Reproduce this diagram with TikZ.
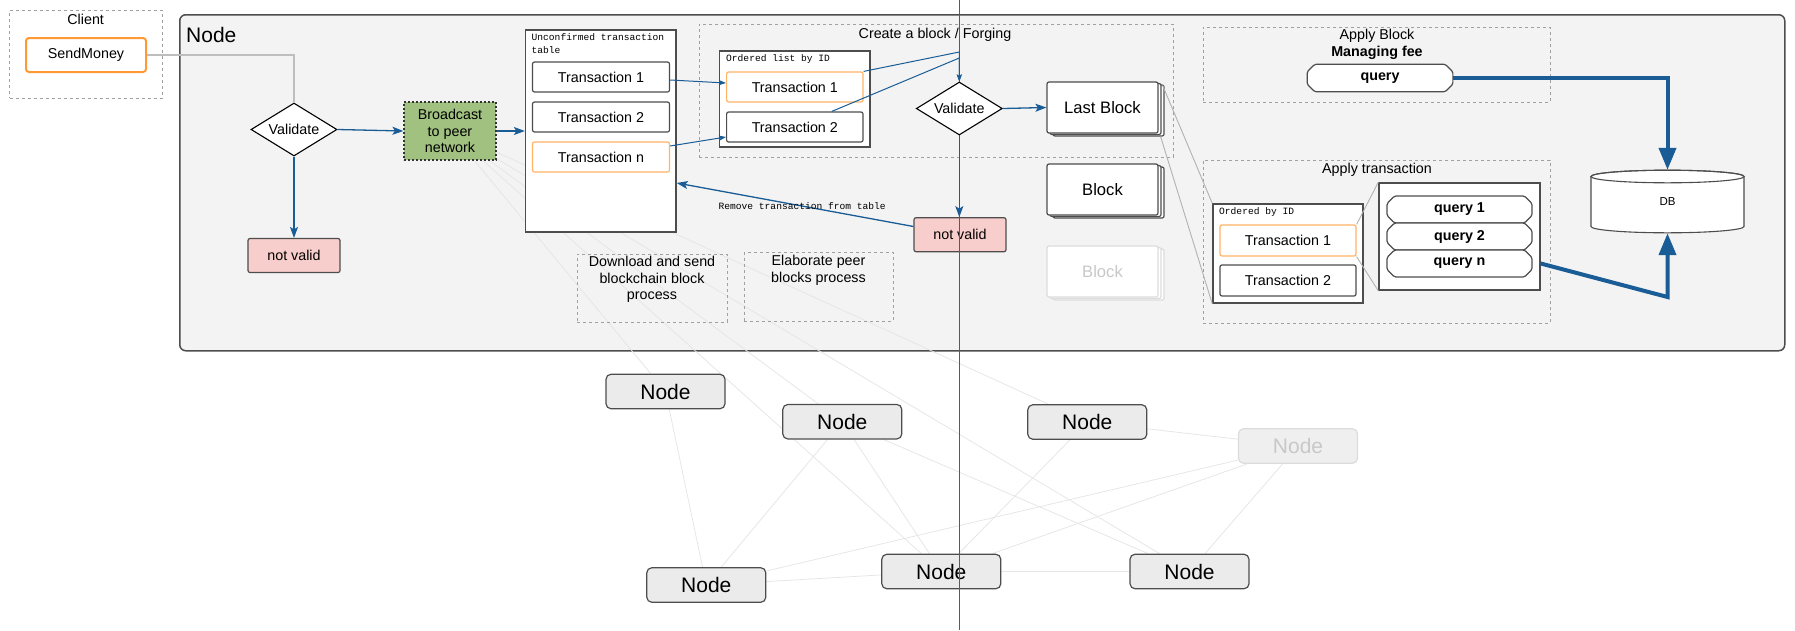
\documentclass[tikz,border=0pt]{standalone}
\usepackage{fontspec}
\setmainfont{Liberation Sans}
\setmonofont{Liberation Mono}
\usetikzlibrary{shapes,arrows.meta,positioning,shadows}
\definecolor{nodebg}{RGB}{243,243,243}
\definecolor{boxdark}{RGB}{77,77,77}
\definecolor{dashgray}{RGB}{160,160,160}
\definecolor{txorange}{RGB}{255,179,102}
\definecolor{sendorange}{RGB}{255,153,51}
\definecolor{nvred}{RGB}{248,206,204}
\definecolor{bcgreen}{RGB}{160,193,128}
\definecolor{flowblue}{RGB}{26,92,150}
\definecolor{peerfill}{RGB}{235,235,235}
\definecolor{peerfade}{RGB}{239,239,239}
\definecolor{linkgray}{RGB}{230,230,230}
\definecolor{wiregray}{RGB}{190,190,190}
\definecolor{zoomgray}{RGB}{178,178,178}
\definecolor{fadedraw}{RGB}{220,220,220}
\definecolor{fadetext}{RGB}{200,200,200}
\definecolor{cutgray}{RGB}{90,90,90}
\newcommand{\fsText}{\fontsize{14.3}{16.5}\selectfont}
\newcommand{\fsBig}{\fontsize{21}{24}\selectfont}
\newcommand{\fsBlock}{\fontsize{16.6}{19}\selectfont}
\newcommand{\fsCode}{\ttfamily\fontsize{9.6}{13}\selectfont}
\newcommand{\fsSmall}{\fontsize{11.5}{13}\selectfont}
\pgfdeclarelayer{back}
\pgfdeclarelayer{links}
\pgfsetlayers{back,links,main}
\tikzset{stackbox/.style={draw=#1, fill=white, rounded corners=2pt, line width=1.2pt,
    minimum width=111, minimum height=51, inner sep=0pt, font=\fsBlock,
    general shadow={shadow xshift=6pt, shadow yshift=-3pt, draw=#1, fill=white},
    general shadow={shadow xshift=3pt, shadow yshift=-1.5pt, draw=#1, fill=white}}}

\begin{document}
\begin{tikzpicture}[x=1pt, y=-1pt, >={Stealth[length=11pt,width=8pt,inset=2.5pt]}, node distance=40pt, font=\fsText]
        \tikzstyle{groupbox}=[draw=dashgray, dash pattern=on 3pt off 3pt, line width=0.8pt, inner sep=0pt, anchor=north west]
        \tikzstyle{holder}=[draw=boxdark, fill=white, line width=1.5pt, inner sep=0pt]
        \tikzstyle{txbox}=[draw=boxdark, fill=white, rounded corners=2pt, line width=1.2pt, minimum width=137, minimum height=30, inner sep=0pt]
        \tikzstyle{txnew}=[txbox, draw=txorange]
        \tikzstyle{decide}=[diamond, draw=black, fill=white, line width=1.1pt, aspect=1.6, minimum width=86, minimum height=53, inner sep=0pt]
        \tikzstyle{reject}=[draw=boxdark, fill=nvred, rounded corners=2pt, line width=1.2pt, minimum width=92, minimum height=34, inner sep=0pt]
        \tikzstyle{codelbl}=[font=\fsCode, inner sep=0pt, anchor=north west, align=left]
        \tikzstyle{querybox}=[chamfered rectangle, chamfered rectangle xsep=4pt, draw=boxdark, fill=white, line width=1.2pt, rounded corners=1.5pt, minimum width=145, minimum height=27, inner sep=0pt, font=\fsText\bfseries]
        \tikzstyle{peer}=[draw=boxdark, fill=peerfill, rounded corners=5pt, line width=1.2pt, minimum width=119, minimum height=34.5, inner sep=0pt, font=\fsBig]
        \tikzstyle{flow}=[->, draw=flowblue, line width=1.3pt]
        \tikzstyle{thinflow}=[-{Stealth[length=7pt,width=5pt,inset=1.5pt]}, draw=flowblue, line width=1pt]
        \tikzstyle{dbflow}=[-{Triangle[length=22pt,width=17pt]}, draw=flowblue, line width=4pt]
        \tikzstyle{wire}=[draw=wiregray, line width=1.2pt]
        \tikzstyle{zoomline}=[draw=zoomgray, line width=0.9pt]
        \tikzstyle{peerlink}=[draw=linkgray, line width=0.8pt]
        \useasboundingbox (0,0) rectangle (1795,630);

        % node frame
        \begin{pgfonlayer}{back}
        \node[draw=boxdark, fill=nodebg, rounded corners=6pt, line width=1.5pt, minimum width=1605, minimum height=336, anchor=north west, inner sep=0pt] (nodebox) at (179,14) {};
        \end{pgfonlayer}
        \node[anchor=west, inner sep=0pt, font=\fsBig] (nodetitle) at (186,34.5) {Node};

        % client
        \node[groupbox, minimum width=152.7, minimum height=88] (client) at (9.3,10) {};
        \node[inner sep=0pt] (clienttitle) at (85.7,19) {Client};
        \node[draw=sendorange, fill=white, line width=2pt, rounded corners=3pt, minimum width=120, minimum height=34, inner sep=0pt] (send) at (86,55) {SendMoney};

        % validation and broadcast
        \node[decide] (val1) at (294,129.5) {Validate};
        \node[reject] (nv1) at (294,255.5) {not valid};
        \node[draw=black!80, fill=bcgreen, dash pattern=on 2pt off 2pt, line width=1.2pt, minimum width=92, minimum height=58, align=center, inner sep=0pt] (bc) at (450,131) {Broadcast\\to peer\\network};

        % unconfirmed table
        \node[holder, minimum width=150.4, minimum height=202] (utx) at (600.8,131) {};
        \node[codelbl] (utxlbl) at (531.5,33.5) {Unconfirmed transaction\\table};
        \node[txbox] (tx1) at (601,77) {Transaction 1};
        \node[txbox, below of=tx1] (tx2) {Transaction 2};
        \node[txnew, below of=tx2] (txn) {Transaction n};

        % forging
        \node[groupbox, minimum width=474, minimum height=133] (forge) at (699,24) {};
        \node[inner sep=0pt] (forgetitle) at (935,34.5) {Create a block / Forging};
        \node[holder, minimum width=150.4, minimum height=96] (olist) at (794.8,99) {};
        \node[codelbl] (olistlbl) at (726,54) {Ordered list by ID};
        \node[txnew, minimum width=136.4] (otx1) at (794.8,87) {Transaction 1};
        \node[txbox, minimum width=136.4, below of=otx1] (otx2) {Transaction 2};
        \node[reject] (nv2) at (960,234.7) {not valid};

        % blocks
        \node[stackbox=boxdark] (last) at (1102.5,107.5) {Last Block};
        \node[stackbox=boxdark, node distance=82, below of=last] (blk) {Block};
        \node[stackbox=fadedraw, text=fadetext, node distance=82, below of=blk] (oldblk) {Block};

        % apply block
        \node[groupbox, minimum width=347, minimum height=75] (apblock) at (1203,27) {};
        \node[align=center, inner sep=0pt] (apblocktitle) at (1377,44.5) {Apply Block\\\textbf{Managing fee}};
        \node[querybox, minimum width=145.7, minimum height=27.4] (qry) at (1380,78) {query};

        % apply transaction
        \node[groupbox, minimum width=347, minimum height=163] (aptx) at (1203,160) {};
        \node[inner sep=0pt] (aptxtitle) at (1377,170) {Apply transaction};
        \node[holder, minimum width=150, minimum height=99] (obid) at (1288,253.5) {};
        \node[codelbl] (obidlbl) at (1219,207) {Ordered by ID};
        \node[txnew, minimum width=136, minimum height=31] (atx1) at (1288,240.5) {Transaction 1};
        \node[txbox, minimum width=136, minimum height=31, below of=atx1] (atx2) {Transaction 2};
        \node[holder, minimum width=161, minimum height=107] (qbox) at (1459.5,236.5) {};
        \node[querybox] (q1) at (1459.5,209.5) {query 1};
        \node[querybox, node distance=27, below of=q1] (q2) {query 2};
        \node[querybox, node distance=27, below of=q2] (qn) {query n};

        % database
        \draw[draw=boxdark, fill=white, line width=1.1pt] (1591,176.5) -- (1591,226.5)
            arc[start angle=180, end angle=360, x radius=76.5pt, y radius=6.3pt] -- (1744,176.5)
            arc[start angle=0, end angle=180, x radius=76.5pt, y radius=6.3pt] -- cycle;
        \draw[draw=boxdark, line width=1.1pt] (1667.5,176.5) ellipse [x radius=76.5pt, y radius=6.3pt];
        \node[minimum width=153, minimum height=63, inner sep=0pt, font=\fsSmall] (db) at (1667.5,201.5) {DB};

        % other processes
        \node[groupbox, minimum width=150, minimum height=68] (dl) at (577,254) {};
        \node[anchor=north, align=center, inner sep=0pt] (dltext) at (652,256) {Download and send\\blockchain block\\process};
        \node[groupbox, minimum width=149, minimum height=68.7] (elab) at (744,252) {};
        \node[anchor=north, align=center, inner sep=0pt] (elabtext) at (818.5,255) {Elaborate peer\\blocks process};

        % peer network
        \node[peer] (nA) at (665.5,391.5) {Node};
        \node[peer] (nB) at (842.3,421.7) {Node};
        \node[peer] (nC) at (1087.3,422) {Node};
        \node[peer, draw=fadedraw, fill=peerfade, text=fadetext] (nD) at (1298,446) {Node};
        \node[peer] (nE) at (706.3,585) {Node};
        \node[peer] (nF) at (941.3,571.5) {Node};
        \node[peer] (nG) at (1189.5,571.5) {Node};

        % cut line
        \coordinate (cuttop) at (959.3,0);
        \coordinate (cutbot) at (959.3,630);
        \draw[draw=cutgray, line width=0.8pt] (cuttop) -- (cutbot);
        \node[decide] (val2) at (959.3,108.5) {Validate};

        % connectors
        \draw[wire] (send.east) -| (val1.north);
        \draw[flow] (val1.east) -- (bc.west);
        \draw[flow] (val1.south) -- (nv1.north);
        \draw[flow] (bc.east) -- (utx.west);
        \draw[thinflow] ([yshift=-3pt]tx1.east) -- ([yshift=4pt]otx1.west);
        \draw[thinflow] ([yshift=11pt]txn.east) -- ([yshift=-10pt]otx2.west);
        \coordinate (fork1) at (959.3,52);
        \coordinate (fork2) at (959.3,58);
        \draw[thinflow] (otx1.north east) -- (fork1) -- (val2.north);
        \draw[thinflow] ([xshift=37pt]otx2.north) -- (fork2) -- (val2.north);
        \draw[flow] (val2.east) -- (last.west);
        \draw[flow] (val2.south) -- (val2.south |- nv2.north);
        \draw[flow] (nv2.170) -- node[pos=0.47, font=\fsCode, inner sep=0pt] {Remove transaction from table} ([yshift=-52pt]utx.east);
        \draw[zoomline] ([xshift=4pt,yshift=-4pt]last.north east) -- (obid.north west);
        \draw[zoomline] ([xshift=2pt,yshift=-3pt]last.south east) -- (obid.south west);
        \draw[zoomline] (atx1.north east) -- (qbox.north west);
        \draw[zoomline] (atx1.south east) -- (qbox.south west);
        \draw[dbflow] (qry.east) -| (db.north);
        \coordinate (dbturn) at (1667.5,297);
        \draw[dbflow] (qn.east -| qbox.east) -- (dbturn) -- (db.south);

        \begin{pgfonlayer}{links}
        \path[peerlink]
        (bc) edge (nA) edge (nB) edge (nC) edge (nF) edge (nG)
        (nA) edge (nE)
        (nB) edge (nE) edge (nF) edge (nG)
        (nC) edge (nF) edge (nD)
        (nD) edge (nE) edge (nF) edge (nG)
        (nE) edge (nF)
        (nF) edge (nG);
        \end{pgfonlayer}
    \end{tikzpicture}
\end{document}
